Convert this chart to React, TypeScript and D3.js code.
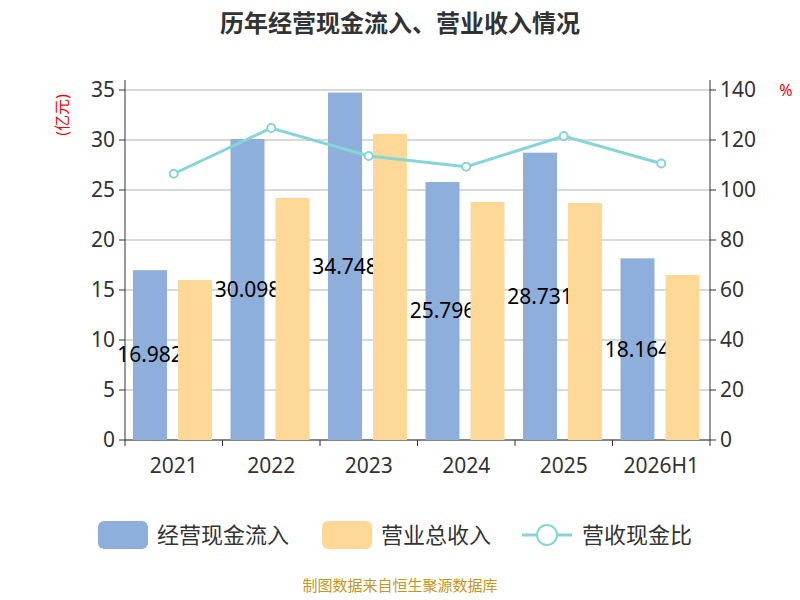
import * as d3 from 'd3'
import React from 'react'

const years = ['2021', '2022', '2023', '2024', '2025', '2026H1']
const cashIn = [16.982, 30.098, 34.748, 25.796, 28.731, 18.164]
const revenue = [16.0, 24.2, 30.6, 23.8, 23.7, 16.5]
const ratio = [106.5, 124.8, 113.6, 109.3, 121.6, 110.6]

const font = '"Noto Sans", "Noto Sans CJK SC", sans-serif'

const App = (): JSX.Element => {
    const left = 125
    const right = 710
    const top = 90
    const bottom = 440
    const x = d3.scaleBand().domain(years).range([left, right])
    const yL = d3.scaleLinear().domain([0, 35]).range([bottom, top])
    const yR = d3.scaleLinear().domain([0, 140]).range([bottom, top])
    const bw = 34
    const line = d3
        .line<number>()
        .x((_, i) => x(years[i])! + x.bandwidth() / 2)
        .y((d) => yR(d))

    return (
        <svg width={800} height={600} style={{ position: 'absolute', left: 0, top: 0 }} fontFamily={font}>
            <text x={400} y={32} textAnchor="middle" fontSize={24} fontWeight="bold" fill="#333">
                历年经营现金流入、营业收入情况
            </text>
            {yL.ticks(7).map((t) => (
                <g key={t}>
                    <line x1={left} x2={right} y1={yL(t)} y2={yL(t)} stroke="#ccc" strokeWidth={1.5} />
                    <line x1={left - 6} x2={left} y1={yL(t)} y2={yL(t)} stroke="#333" />
                    <text x={left - 10} y={yL(t)} dy="0.35em" textAnchor="end" fontSize={21} fill="#333">
                        {t}
                    </text>
                </g>
            ))}
            {yR.ticks(7).map((t) => (
                <g key={t}>
                    <line x1={right} x2={right + 6} y1={yR(t)} y2={yR(t)} stroke="#333" />
                    <text x={right + 10} y={yR(t)} dy="0.35em" fontSize={21} fill="#333">
                        {t}
                    </text>
                </g>
            ))}
            <line x1={left} x2={left} y1={top - 10} y2={bottom} stroke="#333" />
            <line x1={right} x2={right} y1={top - 10} y2={bottom} stroke="#333" />
            <line x1={left} x2={right} y1={bottom} y2={bottom} stroke="#333" />
            <text transform={`translate(68,${top + 25}) rotate(-90)`} textAnchor="middle" fontSize={16} fill="red">
                (亿元)
            </text>
            <text transform={`translate(786,${top})`} textAnchor="middle" fontSize={16} fill="red" dy="0.35em">
                %
            </text>
            {years.map((yr, i) => (
                <g key={yr}>
                    <line x1={x(yr)!} x2={x(yr)!} y1={bottom} y2={bottom + 6} stroke="#333" />
                    <text x={x(yr)! + x.bandwidth() / 2} y={bottom + 33} textAnchor="middle" fontSize={21} fill="#333">
                        {yr}
                    </text>
                    <rect x={x(yr)! + 8} y={yL(cashIn[i])} width={bw} height={bottom - yL(cashIn[i])} fill="#8eaedb" />
                </g>
            ))}
            <line x1={right} x2={right} y1={bottom} y2={bottom + 6} stroke="#333" />
            {years.map((yr, i) => (
                <text
                    key={yr}
                    x={x(yr)! + 8 + bw / 2}
                    y={(yL(cashIn[i]) + bottom) / 2}
                    dy="0.35em"
                    textAnchor="middle"
                    fontSize={21}
                    fill="#000"
                >
                    {cashIn[i].toFixed(3)}
                </text>
            ))}
            {years.map((yr, i) => (
                <rect key={yr} x={x(yr)! + 53} y={yL(revenue[i])} width={bw} height={bottom - yL(revenue[i])} fill="#fed897" />
            ))}
            <path d={line(ratio)!} fill="none" stroke="#86d5d8" strokeWidth={3} />
            {ratio.map((r, i) => (
                <circle key={i} cx={x(years[i])! + x.bandwidth() / 2} cy={yR(r)} r={4} fill="#fff" stroke="#86d5d8" strokeWidth={2} />
            ))}
            <g fontSize={22} fill="#333">
                <rect x={98} y={521} width={50} height={28} rx={6} fill="#8eaedb" />
                <text x={157} y={535} dy="0.35em">经营现金流入</text>
                <rect x={322} y={521} width={50} height={28} rx={6} fill="#fed897" />
                <text x={381} y={535} dy="0.35em">营业总收入</text>
                <line x1={522} x2={572} y1={535} y2={535} stroke="#86d5d8" strokeWidth={3} />
                <circle cx={547} cy={535} r={10} fill="#fff" stroke="#86d5d8" strokeWidth={2} />
                <text x={582} y={535} dy="0.35em">营收现金比</text>
            </g>
            <text x={400} y={591} textAnchor="middle" fontSize={15} fill="#c8961e">
                制图数据来自恒生聚源数据库
            </text>
        </svg>
    )
}

export default App
